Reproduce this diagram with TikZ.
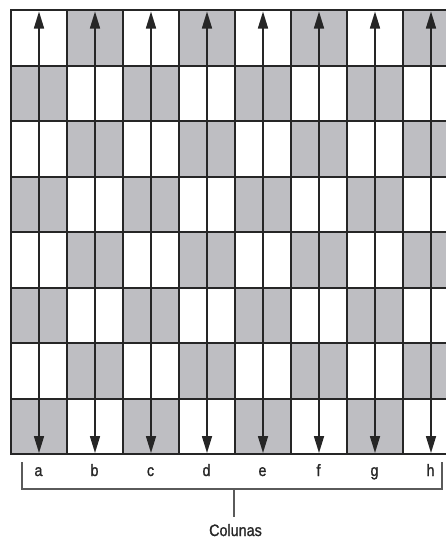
\documentclass[tikz,border=0pt]{standalone}
\usepackage{fontspec}
\setmainfont[FakeStretch=0.87,FakeBold=1.1]{Liberation Sans}
\usetikzlibrary{arrows.meta}
\definecolor{sq}{RGB}{190,190,194}
\definecolor{ln}{RGB}{38,38,38}
\definecolor{br}{RGB}{90,90,90}
\begin{document}
\begin{tikzpicture}[x=1pt,y=-1pt,
  gridline/.style={draw=ln,line width=2pt},
  colarrow/.style={draw=ln,line width=1.6pt,{Triangle[width=10pt,length=17pt]}-{Triangle[width=10pt,length=17pt]}},
  collabel/.style={font=\fontsize{16.5}{17}\selectfont,text=ln,inner sep=0pt,anchor=base},
  bracket/.style={draw=br,line width=1.1pt},
  caption/.style={font=\fontsize{16.5}{17}\selectfont,text=ln,inner sep=0pt,anchor=base}]
\useasboundingbox (0,0) rectangle (446,539);
\fill[white] (0,0) rectangle (446,539);
\begin{scope}
\clip (0,0) rectangle (446,539);
\foreach \i in {0,...,7}{
  \foreach \j in {0,...,7}{
    \ifodd\numexpr\i+\j\relax
      \fill[sq] ({11+56*\j},{10+55.5*\i}) rectangle ({67+56*\j},{65.5+55.5*\i});
    \fi
  }
}
\foreach \i in {0,...,8}
  \draw[gridline] (10,{10+55.5*\i}) -- (460,{10+55.5*\i});
\foreach \j in {0,...,8}
  \draw[gridline] ({11+56*\j},9) -- ({11+56*\j},455);
\foreach \j/\n in {0/a,1/b,2/c,3/d,4/e,5/f,6/g,7/h}{
  \coordinate (t\n) at ({39+56*\j},11.5);
  \coordinate (b\n) at ({39+56*\j},453);
  \draw[colarrow] (t\n) -- (b\n);
}
\end{scope}
\foreach \j/\n in {0/a,1/b,2/c,3/d,4/e,5/f,6/g,7/h}
  \node[collabel] (l\n) at ({38.5+56*\j},476) {\n};
\coordinate (bl) at (22,462);
\coordinate (brt) at (442,462);
\coordinate (bm) at (234,489);
\draw[bracket] (bl) |- (bm) -| (brt);
\node[caption] (cap) at (235.5,536) {Colunas};
\draw[bracket] (bm) -- (234,517);
\end{tikzpicture}
\end{document}
